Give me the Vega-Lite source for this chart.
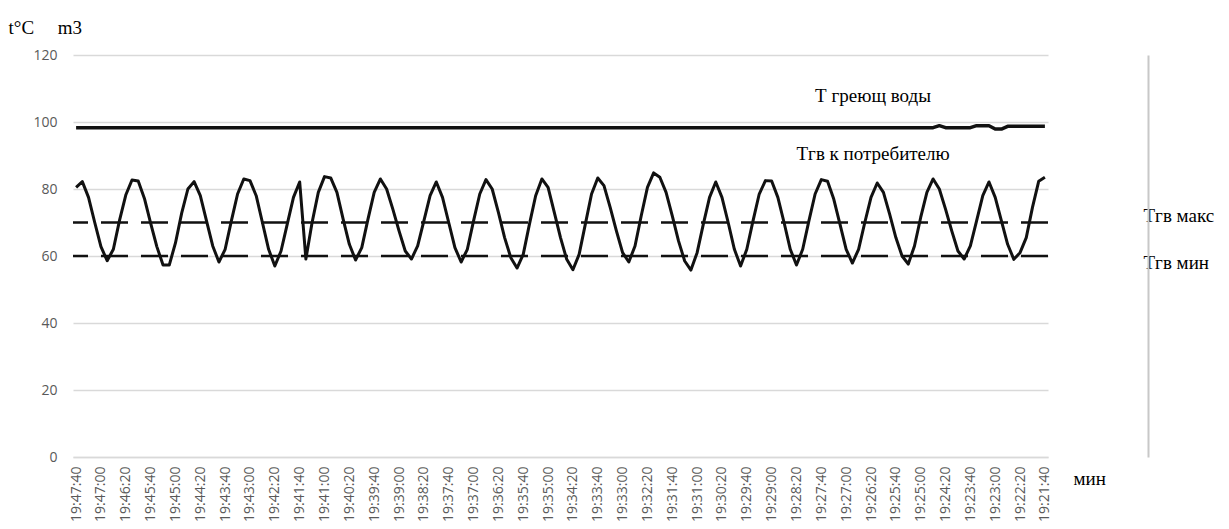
{
  "$schema": "https://vega.github.io/schema/vega-lite/v6.json",
  "width": 975,
  "height": 402,
  "autosize": "none",
  "padding": {"left": 73, "top": 55, "right": 181, "bottom": 72},
  "background": "white",
  "config": {"view": {"stroke": null}, "font": "Open Sans"},
  "resolve": {"scale": {"y": "independent"}},
  "datasets": {
    "main": [
      {"t":"19:47:40","tgr":98.3,"tgv":80.5},{"t":"19:47:30","tgr":98.3,"tgv":82.2},{"t":"19:47:20","tgr":98.3,"tgv":77.5},{"t":"19:47:10","tgr":98.3,"tgv":70.0},{"t":"19:47:00","tgr":98.3,"tgv":62.8},
      {"t":"19:46:50","tgr":98.3,"tgv":58.6},{"t":"19:46:40","tgr":98.3,"tgv":62.0},{"t":"19:46:30","tgr":98.3,"tgv":70.7},{"t":"19:46:20","tgr":98.3,"tgv":78.2},{"t":"19:46:10","tgr":98.3,"tgv":82.7},{"t":"19:46:00","tgr":98.3,"tgv":82.4},
      {"t":"19:45:50","tgr":98.3,"tgv":77.2},{"t":"19:45:40","tgr":98.3,"tgv":69.8},{"t":"19:45:30","tgr":98.3,"tgv":62.8},{"t":"19:45:20","tgr":98.3,"tgv":57.3},{"t":"19:45:10","tgr":98.3,"tgv":57.3},{"t":"19:45:00","tgr":98.3,"tgv":63.9},
      {"t":"19:44:50","tgr":98.3,"tgv":72.8},{"t":"19:44:40","tgr":98.3,"tgv":80.0},{"t":"19:44:30","tgr":98.3,"tgv":82.2},{"t":"19:44:20","tgr":98.3,"tgv":78.0},{"t":"19:44:10","tgr":98.3,"tgv":70.5},{"t":"19:44:00","tgr":98.3,"tgv":63.0},
      {"t":"19:43:50","tgr":98.3,"tgv":58.2},{"t":"19:43:40","tgr":98.3,"tgv":62.0},{"t":"19:43:30","tgr":98.3,"tgv":70.5},{"t":"19:43:20","tgr":98.3,"tgv":78.5},{"t":"19:43:10","tgr":98.3,"tgv":83.0},{"t":"19:43:00","tgr":98.3,"tgv":82.5},
      {"t":"19:42:50","tgr":98.3,"tgv":78.0},{"t":"19:42:40","tgr":98.3,"tgv":70.0},{"t":"19:42:30","tgr":98.3,"tgv":62.0},{"t":"19:42:20","tgr":98.3,"tgv":57.0},{"t":"19:42:10","tgr":98.3,"tgv":61.5},{"t":"19:42:00","tgr":98.3,"tgv":69.5},
      {"t":"19:41:50","tgr":98.3,"tgv":77.5},{"t":"19:41:40","tgr":98.3,"tgv":82.1},{"t":"19:41:30","tgr":98.3,"tgv":59.1},{"t":"19:41:20","tgr":98.3,"tgv":70.0},{"t":"19:41:10","tgr":98.3,"tgv":79.0},{"t":"19:41:00","tgr":98.3,"tgv":83.7},
      {"t":"19:40:50","tgr":98.3,"tgv":83.3},{"t":"19:40:40","tgr":98.3,"tgv":79.0},{"t":"19:40:30","tgr":98.3,"tgv":71.0},{"t":"19:40:20","tgr":98.3,"tgv":63.5},{"t":"19:40:10","tgr":98.3,"tgv":58.8},{"t":"19:40:00","tgr":98.3,"tgv":62.5},
      {"t":"19:39:50","tgr":98.3,"tgv":71.0},{"t":"19:39:40","tgr":98.3,"tgv":79.0},{"t":"19:39:30","tgr":98.3,"tgv":83.0},{"t":"19:39:20","tgr":98.3,"tgv":80.0},{"t":"19:39:10","tgr":98.3,"tgv":74.0},{"t":"19:39:00","tgr":98.3,"tgv":67.5},
      {"t":"19:38:50","tgr":98.3,"tgv":61.5},{"t":"19:38:40","tgr":98.3,"tgv":59.1},{"t":"19:38:30","tgr":98.3,"tgv":63.0},{"t":"19:38:20","tgr":98.3,"tgv":70.5},{"t":"19:38:10","tgr":98.3,"tgv":78.0},{"t":"19:38:00","tgr":98.3,"tgv":82.1},
      {"t":"19:37:50","tgr":98.3,"tgv":77.5},{"t":"19:37:40","tgr":98.3,"tgv":70.0},{"t":"19:37:30","tgr":98.3,"tgv":62.5},{"t":"19:37:20","tgr":98.3,"tgv":58.2},{"t":"19:37:10","tgr":98.3,"tgv":62.0},{"t":"19:37:00","tgr":98.3,"tgv":70.5},
      {"t":"19:36:50","tgr":98.3,"tgv":78.5},{"t":"19:36:40","tgr":98.3,"tgv":82.8},{"t":"19:36:30","tgr":98.3,"tgv":80.0},{"t":"19:36:20","tgr":98.3,"tgv":73.0},{"t":"19:36:10","tgr":98.3,"tgv":65.5},{"t":"19:36:00","tgr":98.3,"tgv":59.5},
      {"t":"19:35:50","tgr":98.3,"tgv":56.4},{"t":"19:35:40","tgr":98.3,"tgv":60.5},{"t":"19:35:30","tgr":98.3,"tgv":69.5},{"t":"19:35:20","tgr":98.3,"tgv":78.0},{"t":"19:35:10","tgr":98.3,"tgv":83.0},{"t":"19:35:00","tgr":98.3,"tgv":80.5},
      {"t":"19:34:50","tgr":98.3,"tgv":73.0},{"t":"19:34:40","tgr":98.3,"tgv":65.5},{"t":"19:34:30","tgr":98.3,"tgv":59.0},{"t":"19:34:20","tgr":98.3,"tgv":55.9},{"t":"19:34:10","tgr":98.3,"tgv":60.5},{"t":"19:34:00","tgr":98.3,"tgv":69.5},
      {"t":"19:33:50","tgr":98.3,"tgv":78.5},{"t":"19:33:40","tgr":98.3,"tgv":83.3},{"t":"19:33:30","tgr":98.3,"tgv":81.0},{"t":"19:33:20","tgr":98.3,"tgv":74.5},{"t":"19:33:10","tgr":98.3,"tgv":67.5},{"t":"19:33:00","tgr":98.3,"tgv":61.0},
      {"t":"19:32:50","tgr":98.3,"tgv":58.2},{"t":"19:32:40","tgr":98.3,"tgv":63.0},{"t":"19:32:30","tgr":98.3,"tgv":72.0},{"t":"19:32:20","tgr":98.3,"tgv":80.5},{"t":"19:32:10","tgr":98.3,"tgv":84.8},{"t":"19:32:00","tgr":98.3,"tgv":83.5},
      {"t":"19:31:50","tgr":98.3,"tgv":79.0},{"t":"19:31:40","tgr":98.3,"tgv":72.0},{"t":"19:31:30","tgr":98.3,"tgv":64.5},{"t":"19:31:20","tgr":98.3,"tgv":58.5},{"t":"19:31:10","tgr":98.3,"tgv":55.8},{"t":"19:31:00","tgr":98.3,"tgv":61.0},
      {"t":"19:30:50","tgr":98.3,"tgv":69.5},{"t":"19:30:40","tgr":98.3,"tgv":77.5},{"t":"19:30:30","tgr":98.3,"tgv":82.1},{"t":"19:30:20","tgr":98.3,"tgv":77.5},{"t":"19:30:10","tgr":98.3,"tgv":70.0},{"t":"19:30:00","tgr":98.3,"tgv":62.0},
      {"t":"19:29:50","tgr":98.3,"tgv":57.0},{"t":"19:29:40","tgr":98.3,"tgv":62.0},{"t":"19:29:30","tgr":98.3,"tgv":70.5},{"t":"19:29:20","tgr":98.3,"tgv":78.5},{"t":"19:29:10","tgr":98.3,"tgv":82.5},{"t":"19:29:00","tgr":98.3,"tgv":82.4},
      {"t":"19:28:50","tgr":98.3,"tgv":77.5},{"t":"19:28:40","tgr":98.3,"tgv":70.0},{"t":"19:28:30","tgr":98.3,"tgv":62.0},{"t":"19:28:20","tgr":98.3,"tgv":57.3},{"t":"19:28:10","tgr":98.3,"tgv":62.0},{"t":"19:28:00","tgr":98.3,"tgv":70.5},
      {"t":"19:27:50","tgr":98.3,"tgv":78.5},{"t":"19:27:40","tgr":98.3,"tgv":82.8},{"t":"19:27:30","tgr":98.3,"tgv":82.3},{"t":"19:27:20","tgr":98.3,"tgv":77.0},{"t":"19:27:10","tgr":98.3,"tgv":69.5},{"t":"19:27:00","tgr":98.3,"tgv":62.0},
      {"t":"19:26:50","tgr":98.3,"tgv":57.9},{"t":"19:26:40","tgr":98.3,"tgv":62.0},{"t":"19:26:30","tgr":98.3,"tgv":70.0},{"t":"19:26:20","tgr":98.3,"tgv":77.5},{"t":"19:26:10","tgr":98.3,"tgv":81.8},{"t":"19:26:00","tgr":98.3,"tgv":79.0},
      {"t":"19:25:50","tgr":98.3,"tgv":72.5},{"t":"19:25:40","tgr":98.3,"tgv":65.5},{"t":"19:25:30","tgr":98.3,"tgv":60.0},{"t":"19:25:20","tgr":98.3,"tgv":57.6},{"t":"19:25:10","tgr":98.3,"tgv":63.0},{"t":"19:25:00","tgr":98.3,"tgv":71.5},
      {"t":"19:24:50","tgr":98.3,"tgv":79.0},{"t":"19:24:40","tgr":98.3,"tgv":83.0},{"t":"19:24:30","tgr":98.9,"tgv":80.0},{"t":"19:24:20","tgr":98.3,"tgv":74.0},{"t":"19:24:10","tgr":98.3,"tgv":67.5},{"t":"19:24:00","tgr":98.3,"tgv":61.5},
      {"t":"19:23:50","tgr":98.3,"tgv":59.1},{"t":"19:23:40","tgr":98.3,"tgv":63.0},{"t":"19:23:30","tgr":98.9,"tgv":70.5},{"t":"19:23:20","tgr":98.9,"tgv":78.0},{"t":"19:23:10","tgr":98.9,"tgv":82.1},{"t":"19:23:00","tgr":97.9,"tgv":77.5},
      {"t":"19:22:50","tgr":97.9,"tgv":70.5},{"t":"19:22:40","tgr":98.7,"tgv":63.5},{"t":"19:22:30","tgr":98.7,"tgv":59.0},{"t":"19:22:20","tgr":98.7,"tgv":61.0},{"t":"19:22:10","tgr":98.7,"tgv":65.5},{"t":"19:22:00","tgr":98.7,"tgv":74.5},
      {"t":"19:21:50","tgr":98.7,"tgv":82.3},{"t":"19:21:40","tgr":98.7,"tgv":83.5}
    ],
    "levels": [{"level": 70, "name": "Тгв макс"}, {"level": 60, "name": "Тгв мин"}],
    "notes": [{"t": "19:27:50", "v": 106, "note": "Т греющ воды"}, {"t": "19:28:20", "v": 88.7, "note": "Тгв к потребителю"}]
  },
  "layer": [
    {
      "data": {"name": "main"},
      "mark": {"type": "line", "color": "#111111", "strokeWidth": 3.5, "strokeJoin": "round"},
      "encoding": {
        "x": {"field": "t", "type": "ordinal", "sort": "descending", "scale": {"type": "point", "padding": 0.5},
          "axis": {"values": ["19:47:40","19:47:00","19:46:20","19:45:40","19:45:00","19:44:20","19:43:40","19:43:00","19:42:20","19:41:40","19:41:00","19:40:20","19:39:40","19:39:00","19:38:20","19:37:40","19:37:00","19:36:20","19:35:40","19:35:00","19:34:20","19:33:40","19:33:00","19:32:20","19:31:40","19:31:00","19:30:20","19:29:40","19:29:00","19:28:20","19:27:40","19:27:00","19:26:20","19:25:40","19:25:00","19:24:20","19:23:40","19:23:00","19:22:20","19:21:40"],
            "labelAngle": -90, "labelFont": "Open Sans", "labelFontSize": 14, "labelColor": "#595959", "labelPadding": 9, "labelOverlap": false,
            "ticks": false, "tickSize": 0, "domainColor": "#d9d9d9", "domainWidth": 1.3, "grid": false,
            "title": "мин", "titleFont": "Liberation Serif", "titleFontSize": 19, "titleFontWeight": "normal", "titleColor": "#000000",
            "titleX": 1000, "titleY": 21, "titleAlign": "left", "titleBaseline": "middle", "titleAngle": 0}},
        "y": {"field": "tgr", "type": "quantitative", "scale": {"domain": [0, 120]},
          "axis": {"orient": "left", "values": [0, 20, 40, 60, 80, 100, 120], "grid": true, "gridColor": "#d9d9d9", "gridWidth": 1.3,
            "domain": false, "ticks": false, "tickSize": 0, "labelPadding": 16, "labelFont": "Open Sans", "labelFontSize": 14, "labelColor": "#595959",
            "title": "t°C\u00a0\u00a0\u00a0\u00a0\u00a0m3", "titleFont": "Liberation Serif", "titleFontSize": 19, "titleFontWeight": "normal", "titleColor": "#000000",
            "titleAngle": 0, "titleX": -65, "titleY": -28, "titleAlign": "left", "titleBaseline": "middle"}}
      }
    },
    {
      "data": {"name": "levels"},
      "mark": {"type": "rule", "color": "#111111", "strokeWidth": 2.5, "strokeDash": [27, 13]},
      "encoding": {
        "y": {"field": "level", "type": "quantitative", "scale": {"domain": [0, 120]},
          "axis": {"orient": "right", "offset": 100, "values": [72.2, 58.2],
            "labelExpr": "datum.value > 65 ? 'Тгв макс' : 'Тгв мин'",
            "ticks": false, "tickSize": 0, "labelPadding": -5, "labelAlign": "left",
            "labelFont": "Liberation Serif", "labelFontSize": 19, "labelColor": "#000000",
            "labelOverlap": false, "domainColor": "#c8c8c8", "domainWidth": 2, "grid": false, "title": null}}
      }
    },
    {
      "data": {"name": "main"},
      "mark": {"type": "line", "color": "#111111", "strokeWidth": 3, "strokeJoin": "round"},
      "encoding": {
        "x": {"field": "t", "type": "ordinal", "sort": "descending"},
        "y": {"field": "tgv", "type": "quantitative", "scale": {"domain": [0, 120]}, "axis": null}
      }
    },
    {
      "data": {"name": "notes"},
      "mark": {"type": "text", "align": "left", "baseline": "alphabetic", "font": "Liberation Serif", "fontSize": 19, "color": "#000000"},
      "encoding": {
        "x": {"field": "t", "type": "ordinal", "sort": "descending"},
        "y": {"field": "v", "type": "quantitative", "scale": {"domain": [0, 120]}, "axis": null},
        "text": {"field": "note"}
      }
    }
  ]
}
